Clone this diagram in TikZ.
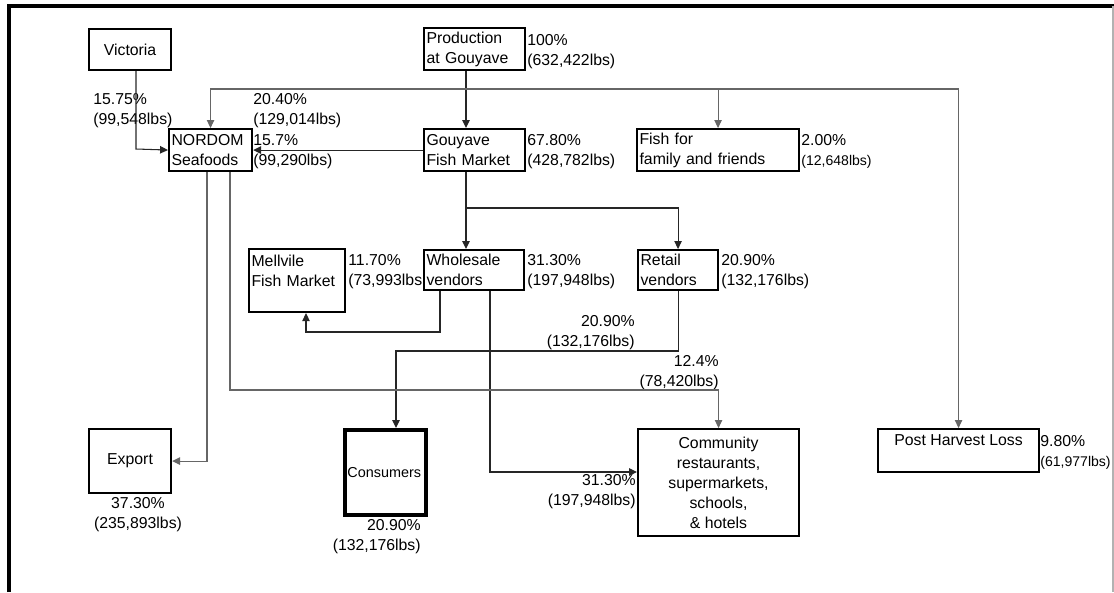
\documentclass[tikz,border=0pt]{standalone}
\usepackage{fontspec}
\setmainfont{Liberation Sans}
\usetikzlibrary{
    arrows.meta,
    positioning,
    calc
}

\begin{document}
\begin{tikzpicture}[x=0.02cm, y=-0.02cm, font=\fontsize{9}{11.4}\selectfont]
  \useasboundingbox (0,0) rectangle (1114,592);

  % Define box and arrow styles:
  \tikzset{
    box/.style={draw, line width=1.2pt, anchor=north west, inner xsep=0.05cm, inner ysep=0pt, align=left},
    flow/.style={-{Triangle[length=4.5pt,width=4.2pt]}, line width=0.6pt, black!85},
    trunk/.style={flow, black!60},
    amount/.style={anchor=north west, inner sep=0pt, align=left}
  };

  % Outer frame (open at the bottom)
  \draw[line width=2pt] (9,592) -- (9,6) -- (1114,6);
  \draw[black!30, line width=0.6pt] (1113,6) -- (1113,592);

  % Boxes for each stage of the chain
  \node[box, align=center, minimum width=1.64cm, minimum height=0.82cm] (vic) at (88,28) {Victoria};
  \node[box, text width=1.92cm, minimum height=0.84cm] (prod) at (423,27) {Production\\at Gouyave};
  \node[box, text width=1.56cm, minimum height=0.84cm] (nordom) at (168,128) {NORDOM\\Seafoods};
  \node[box, text width=1.92cm, minimum height=0.84cm] (gfm) at (423,128) {Gouyave\\Fish Market};
  \node[box, text width=3.14cm, minimum height=0.84cm] (fam) at (636,128) {Fish for\\family and friends};
  \node[box, text width=1.82cm, minimum height=1.26cm] (mel) at (248,248) {Mellvile\\Fish Market\\~};
  \node[box, text width=1.90cm, minimum height=0.80cm] (whole) at (423,249) {Wholesale\\vendors};
  \node[box, text width=1.50cm, minimum height=0.80cm] (retail) at (637,249) {Retail\\vendors};
  \node[box, align=center, minimum width=3.22cm, minimum height=0.86cm] (phl) at (877,428) {Post Harvest Loss\\~};
  \node[box, align=center, minimum width=1.64cm, minimum height=1.28cm] (export) at (88,428) {Export};
  \node[box, line width=2.2pt, text width=1.52cm, minimum height=1.70cm,
        font=\fontsize{8.2}{10}\selectfont] (cons) at (343,428) {Consumers};
  \node[box, align=center, minimum width=3.22cm, minimum height=2.14cm] (comm) at (637,428)
    {Community\\restaurants,\\supermarkets,\\schools,\\\& hotels};

  % Shares and weights beside the boxes
  \node[amount] (prodamt) at (527,34) {100\%\\(632,422lbs)};
  \node[amount] (vicamt) at (93,93) {15.75\%\\(99,548lbs)};
  \node[amount] (nordomin) at (253,93) {20.40\%\\(129,014lbs)};
  \node[amount] (gfmnord) at (253,134) {15.7\%\\(99,290lbs)};
  \node[amount] (gfmamt) at (527,134) {67.80\%\\(428,782lbs)};
  \node[amount] (famamt) at (801,134) {2.00\%\\{\fontsize{8}{9}\selectfont(12,648lbs)}};
  \node[amount] (melamt) at (348,254) {11.70\%\\(73,993lbs};
  \node[amount] (wholeamt) at (527,254) {31.30\%\\(197,948lbs)};
  \node[amount] (retailamt) at (721,254) {20.90\%\\(132,176lbs)};
  \node[amount, anchor=north east, align=right] (retcons) at (635,315) {20.90\%\\(132,176lbs)};
  \node[amount, anchor=north east, align=right] (nordcomm) at (719,355) {12.4\%\\(78,420lbs)};
  \node[amount] (phlamt) at (1040,435) {9.80\%\\{\fontsize{8}{9}\selectfont(61,977lbs)}};
  \node[amount, anchor=north east, align=right] (wholecomm) at (636,474) {31.30\%\\(197,948lbs)};
  \node[amount, anchor=north, align=center] (exportamt) at (138,497) {37.30\%\\(235,893lbs)};
  \node[amount, anchor=north east, align=right] (consamt) at (421,519) {20.90\%\\(132,176lbs)};

  % Bend points for the connectors
  \coordinate (top) at (466,89);
  \coordinate (vicdrop) at (136,149);
  \coordinate (split) at (466,208);
  \coordinate (wm1) at (440,332);
  \coordinate (wm2) at (306,332);
  \coordinate (wc) at (490,472);
  \coordinate (rc) at (396,351);
  \coordinate (nc) at (230,390);
  \coordinate (ne) at (207,460);

  % --- From production: to the market and along the top line
  \draw[flow] (prod.south -| top) -- (gfm.north -| top);
  \draw[trunk] (top) -| (nordom.north);
  \draw[trunk] (top) -| (fam.north);
  \draw[trunk] (top) -| (phl.north);
  % --- Into NORDOM
  \draw[flow] (vic.south -| vicdrop) -- (vicdrop) -- (nordom.west);
  \draw[flow] (gfm.west) -- (nordom.east);
  % --- From the market to the vendors
  \draw[flow] (gfm.south -| split) -- (split) -- (whole.north -| split);
  \draw[flow] (split) -| (retail.north);
  % --- From the vendors
  \draw[flow] (whole.south -| wm1) -- (wm1) -- (wm2) -- (mel.south -| wm2);
  \draw[flow] (whole.south -| wc) -- (wc) -- (comm.west |- wc);
  \draw[flow] (retail.south) |- (rc) -- (cons.north -| rc);
  % --- From NORDOM
  \draw[trunk] (nordom.south -| nc) -- (nc) -| (comm.north);
  \draw[trunk] (nordom.south -| ne) |- (export.east);
\end{tikzpicture}
\end{document}
